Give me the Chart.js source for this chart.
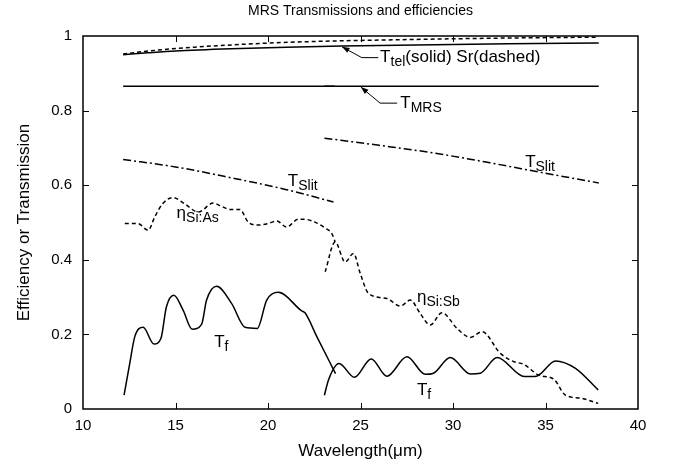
<!DOCTYPE html>
<html>
<head>
<meta charset="utf-8">
<script src="https://cdn.jsdelivr.net/npm/chart.js@4.4.1/dist/chart.umd.min.js"></script>
<style>
  body { margin: 0; background: #fff; }
  canvas { display: block; }
</style>
</head>
<body>
<canvas id="mrsChart" width="673" height="467"></canvas>
<script>
// Filter transmission, short and long channel (wavelength in um)
const tf1X = [12.22, 12.53, 12.8, 13.25, 13.84, 14.21, 14.51, 14.91, 15.41, 15.9, 16.41, 16.68, 17.22, 18.03, 18.76, 19.42, 19.93, 20.56, 21.82, 22.0, 22.64, 23.65];
const tf1Y = [0.037, 0.123, 0.194, 0.219, 0.174, 0.189, 0.274, 0.305, 0.265, 0.214, 0.227, 0.292, 0.329, 0.283, 0.219, 0.216, 0.292, 0.313, 0.263, 0.258, 0.194, 0.095];
const tf2X = [23.05, 23.27, 23.84, 24.67, 25.58, 26.43, 27.51, 28.5, 28.95, 29.85, 30.94, 31.48, 32.38, 33.86, 34.51, 35.54, 36.62, 37.85];
const tf2Y = [0.037, 0.078, 0.122, 0.085, 0.134, 0.088, 0.140, 0.093, 0.096, 0.138, 0.094, 0.096, 0.138, 0.087, 0.088, 0.129, 0.109, 0.051];

// Detector efficiencies
const siAsX = [12.26, 12.98, 13.52, 13.88, 14.3, 14.87, 15.5, 16.23, 17.04, 17.5, 17.94, 18.48, 18.93, 19.48, 20.0, 20.47, 21.01, 21.64, 22.1, 22.54, 23.1, 23.45, 23.63];
const siAsY = [0.497, 0.497, 0.479, 0.515, 0.550, 0.567, 0.550, 0.528, 0.552, 0.543, 0.535, 0.535, 0.501, 0.493, 0.497, 0.504, 0.488, 0.509, 0.508, 0.501, 0.485, 0.470, 0.448];
const siSbX = [23.09, 23.63, 24.17, 24.62, 24.99, 25.43, 26.43, 27.15, 27.69, 28.23, 28.77, 29.4, 30.22, 30.94, 31.57, 32.56, 33.28, 33.82, 34.63, 35.45, 36.08, 36.9, 37.85];
const siSbY = [0.368, 0.448, 0.394, 0.417, 0.363, 0.310, 0.296, 0.276, 0.292, 0.256, 0.225, 0.258, 0.216, 0.192, 0.207, 0.149, 0.127, 0.120, 0.091, 0.080, 0.037, 0.029, 0.015];

// Slit transmission
const slit1X = [12.17, 15, 18, 21, 23.54];
const slit1Y = [0.669, 0.649, 0.620, 0.588, 0.555];
const slit2X = [23.05, 26, 29, 32, 35, 37.88];
const slit2Y = [0.726, 0.707, 0.686, 0.660, 0.632, 0.606];

// MRS optics (two channels overlapping near 23 um)
const mrs1X = [12.17, 23.6];
const mrs1Y = [0.865, 0.865];
const mrs2X = [23.05, 37.88];
const mrs2Y = [0.865, 0.865];

// Telescope transmission and Strehl ratio
const telX = [12.17, 13.5, 15, 18, 21, 24, 28, 33, 37.88];
const telY = [0.950, 0.955, 0.960, 0.966, 0.970, 0.973, 0.976, 0.979, 0.981];
const srX = [12.17, 14, 16, 18, 20, 23, 27, 32, 37.88];
const srY = [0.952, 0.962, 0.970, 0.976, 0.981, 0.986, 0.990, 0.994, 0.997];

const FONT = '"Liberation Sans", Arial, Helvetica, sans-serif';
const DASH = [4, 3];
const DASHDOT = [8, 3, 2, 3];
const TITLE = 'MRS Transmissions and efficiencies';

function pts(xs, ys) {
    return xs.map((x, i) => ({ x: x, y: ys[i] }));
}

function line(xs, ys, dash) {
    return {
        data: pts(xs, ys),
        borderColor: '#000',
        borderWidth: 1.5,
        borderDash: dash || [],
        pointRadius: 0,
        showLine: true,
        fill: false,
        cubicInterpolationMode: 'monotone'
    };
}

// curve labels: x/y at the text baseline, in data units
const curveLabels = [
    { x: 26.06, y: 0.929, main: 'T', sub: 'tel', rest: '(solid) Sr(dashed)' },
    { x: 27.15, y: 0.808, main: 'T', sub: 'MRS' },
    { x: 33.9, y: 0.648, main: 'T', sub: 'Slit' },
    { x: 21.07, y: 0.598, main: 'T', sub: 'Slit' },
    { x: 15.06, y: 0.511, main: 'η', sub: 'Si:As' },
    { x: 28.05, y: 0.287, main: 'η', sub: 'Si:Sb' },
    { x: 17.09, y: 0.167, main: 'T', sub: 'f' },
    { x: 28.05, y: 0.037, main: 'T', sub: 'f' }
];

// leader lines, last point is the arrow tip
const leaders = [
    [[25.96, 0.942], [25.07, 0.942], [24.0, 0.971]],
    [[26.98, 0.820], [26.06, 0.820], [25.02, 0.863]]
];

const frameAndNotes = {
    id: 'frameAndNotes',
    afterDatasetsDraw(chart) {
        const ctx = chart.ctx;
        const a = chart.chartArea;
        const xs = chart.scales.x, ys = chart.scales.y;
        ctx.save();
        ctx.strokeStyle = '#000';
        ctx.fillStyle = '#000';
        ctx.setLineDash([]);

        // title, centred over the plot area
        ctx.font = '14px ' + FONT;
        ctx.textAlign = 'center';
        ctx.textBaseline = 'middle';
        ctx.fillText(TITLE, (a.left + a.right) / 2, 11);

        // border
        ctx.lineWidth = 1.5;
        ctx.strokeRect(a.left, a.top, a.right - a.left, a.bottom - a.top);

        // inward ticks on all four sides
        ctx.lineWidth = 1;
        ctx.beginPath();
        xs.ticks.forEach(t => {
            if (t.value <= xs.min || t.value >= xs.max) return;
            const px = Math.round(xs.getPixelForValue(t.value)) + 0.5;
            ctx.moveTo(px, a.bottom); ctx.lineTo(px, a.bottom - 6);
            ctx.moveTo(px, a.top); ctx.lineTo(px, a.top + 6);
        });
        ys.ticks.forEach(t => {
            if (t.value <= ys.min || t.value >= ys.max) return;
            const py = Math.round(ys.getPixelForValue(t.value)) + 0.5;
            ctx.moveTo(a.left, py); ctx.lineTo(a.left + 6, py);
            ctx.moveTo(a.right, py); ctx.lineTo(a.right - 6, py);
        });
        ctx.stroke();

        // leader lines with arrow heads
        leaders.forEach(l => {
            const p = l.map(q => [xs.getPixelForValue(q[0]), ys.getPixelForValue(q[1])]);
            ctx.lineWidth = 1;
            ctx.beginPath();
            ctx.moveTo(p[0][0], p[0][1]);
            for (let i = 1; i < p.length; i++) ctx.lineTo(p[i][0], p[i][1]);
            ctx.stroke();
            const tip = p[p.length - 1], prev = p[p.length - 2];
            const ang = Math.atan2(tip[1] - prev[1], tip[0] - prev[0]);
            ctx.beginPath();
            ctx.moveTo(tip[0], tip[1]);
            ctx.lineTo(tip[0] - 8 * Math.cos(ang - 0.35), tip[1] - 8 * Math.sin(ang - 0.35));
            ctx.lineTo(tip[0] - 8 * Math.cos(ang + 0.35), tip[1] - 8 * Math.sin(ang + 0.35));
            ctx.closePath();
            ctx.fill();
        });

        // curve labels with subscripts
        ctx.textAlign = 'left';
        ctx.textBaseline = 'alphabetic';
        curveLabels.forEach(lb => {
            let x = xs.getPixelForValue(lb.x);
            const y = ys.getPixelForValue(lb.y);
            ctx.font = '17px ' + FONT;
            ctx.fillText(lb.main, x, y);
            x += ctx.measureText(lb.main).width;
            ctx.font = '14px ' + FONT;
            ctx.fillText(lb.sub, x, y + 4);
            x += ctx.measureText(lb.sub).width;
            if (lb.rest) {
                ctx.font = '17px ' + FONT;
                ctx.fillText(lb.rest, x, y);
            }
        });
        ctx.restore();
    }
};

Chart.defaults.color = '#000';
Chart.defaults.font.family = FONT;

const mrsCtx = document.getElementById('mrsChart').getContext('2d');
new Chart(mrsCtx, {
    type: 'scatter',
    data: {
        datasets: [
            line(tf1X, tf1Y),
            line(tf2X, tf2Y),
            line(siAsX, siAsY, DASH),
            line(siSbX, siSbY, DASH),
            line(slit1X, slit1Y, DASHDOT),
            line(slit2X, slit2Y, DASHDOT),
            line(mrs1X, mrs1Y),
            line(mrs2X, mrs2Y),
            line(telX, telY),
            line(srX, srY, DASH)
        ]
    },
    options: {
        responsive: false,
        animation: false,
        layout: { padding: { left: 0, right: 35, top: 36, bottom: 0 } },
        plugins: {
            legend: { display: false },
            tooltip: { enabled: false },
            title: { display: false }
        },
        scales: {
            x: {
                type: 'linear',
                min: 10, max: 40,
                afterFit: s => { s.height = 58; },
                grid: { display: false, drawTicks: false },
                border: { display: false },
                ticks: { stepSize: 5, padding: 8, font: { size: 15 }, color: '#000' },
                title: { display: true, text: 'Wavelength(μm)', font: { size: 17 }, color: '#000', padding: { top: 0, bottom: 5 } }
            },
            y: {
                min: 0, max: 1,
                afterFit: s => { s.width = 83; },
                grid: { display: false, drawTicks: false },
                border: { display: false },
                ticks: { stepSize: 0.2, padding: 11, font: { size: 15 }, color: '#000', callback: v => +v.toFixed(1) },
                title: { display: true, text: 'Efficiency or Transmission', font: { size: 17 }, color: '#000', padding: { top: 14, bottom: 0 } }
            }
        }
    },
    plugins: [frameAndNotes]
});
</script>
</body>
</html>
